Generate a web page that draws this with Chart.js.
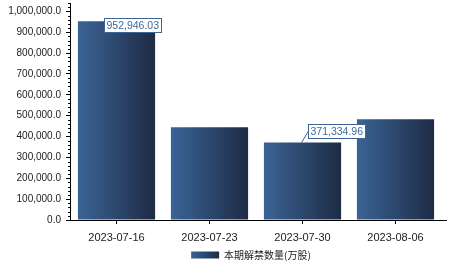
<!DOCTYPE html>
<html>
<head>
<meta charset="utf-8">
<script src="https://cdn.jsdelivr.net/npm/chart.js@4"></script>
<style>
  html, body { margin: 0; padding: 0; background: #fff; }
  #wrap { width: 465px; height: 268px; }
</style>
</head>
<body>
<div id="wrap"><canvas id="chart" width="465" height="268"></canvas></div>
<script>
// Chart data
const dates = ['2023-07-16', '2023-07-23', '2023-07-30', '2023-08-06'];
const unlockAmounts = [952946.03, 444400, 371334.96, 483000];
const labelledBars = [0, 2];
const seriesName = '本期解禁数量(万股)';

const BAR_LEFT = '#3a6496';
const BAR_RIGHT = '#1e2b45';
const BAR_PCT = 0.83;

function fmtTick(v) {
    return v.toLocaleString('en-US', { minimumFractionDigits: 1, maximumFractionDigits: 1 });
}

function fmtValue(v) {
    return v.toLocaleString('en-US', { minimumFractionDigits: 2, maximumFractionDigits: 2 });
}

function barGradient(ctx, x0, x1) {
    const g = ctx.createLinearGradient(x0, 0, x1, 0);
    g.addColorStop(0, BAR_LEFT);
    g.addColorStop(1, BAR_RIGHT);
    return g;
}

// Per-bar horizontal gradient, built from the x scale
function barFill(c) {
    const chart = c.chart;
    const xs = chart.scales.x;
    if (!xs || !chart.chartArea || c.dataIndex === undefined) return BAR_LEFT;
    const cx = xs.getPixelForValue(c.dataIndex);
    const half = xs.width / dates.length * BAR_PCT / 2;
    return barGradient(chart.ctx, cx - half, cx + half);
}

// Minor ticks on the y axis, longer x axis line, gradient legend box
const axisExtras = {
    id: 'axisExtras',
    afterLayout(chart) {
        // nudge the legend a little to the left
        chart.legend.left -= 5;
        chart.legend.right -= 5;
    },
    afterDraw(chart) {
        const ctx = chart.ctx;
        const ys = chart.scales.y;
        const xs = chart.scales.x;
        ctx.save();
        ctx.strokeStyle = '#000';
        ctx.lineWidth = 1;
        ys.ticks.forEach(t => {
            if (t.value % 100000 === 0) return;
            const y = Math.round(ys.getPixelForValue(t.value)) + 0.5;
            ctx.beginPath();
            ctx.moveTo(ys.right - 2, y);
            ctx.lineTo(ys.right, y);
            ctx.stroke();
        });
        const ay = Math.round(xs.top) + 0.5;
        ctx.beginPath();
        ctx.moveTo(xs.right - 1, ay);
        ctx.lineTo(xs.right + 5, ay);
        ctx.stroke();
        const hb = chart.legend.legendHitBoxes && chart.legend.legendHitBoxes[0];
        if (hb) {
            const bw = 28, bh = 7;
            const y = hb.top + (hb.height - bh) / 2;
            ctx.fillStyle = '#fff';
            ctx.fillRect(hb.left - 1, y - 1, bw + 2, bh + 2);
            ctx.fillStyle = barGradient(ctx, hb.left, hb.left + bw);
            ctx.fillRect(hb.left, y, bw, bh);
        }
        ctx.restore();
    }
};

// Boxed value labels
const valueBoxes = {
    id: 'valueBoxes',
    afterDatasetsDraw(chart, args, opts) {
        const ctx = chart.ctx;
        const meta = chart.getDatasetMeta(0);
        ctx.save();
        ctx.font = '10.5px "Liberation Sans", Arial, sans-serif';
        ctx.textBaseline = 'middle';
        labelledBars.forEach((idx, k) => {
            const bar = meta.data[idx];
            const off = opts.offsets[k];
            const text = fmtValue(unlockAmounts[idx]);
            const w = Math.ceil(ctx.measureText(text).width) + 4;
            const h = 14;
            const left = Math.round(bar.x + off.dx) + 0.5;
            const cy = Math.round(bar.y + off.dy);
            ctx.strokeStyle = '#3c6496';
            ctx.lineWidth = 1;
            if (off.dy < 0) {
                ctx.beginPath();
                ctx.moveTo(bar.x - 1, bar.y);
                ctx.lineTo(left, cy);
                ctx.stroke();
            }
            ctx.fillStyle = '#fff';
            ctx.fillRect(left, cy - h / 2 + 0.5, w, h);
            ctx.strokeRect(left, cy - h / 2 + 0.5, w, h);
            ctx.fillStyle = '#3f6ba0';
            ctx.fillText(text, left + 2, cy + 1);
        });
        ctx.restore();
    }
};

new Chart(document.getElementById('chart'), {
    type: 'bar',
    data: {
        labels: dates,
        datasets: [{
            label: seriesName,
            data: unlockAmounts,
            backgroundColor: barFill,
            borderWidth: 0,
            barPercentage: BAR_PCT,
            categoryPercentage: 1
        }]
    },
    options: {
        responsive: false,
        animation: false,
        events: [],
        layout: { padding: { top: 3, right: 23, left: 0, bottom: -2 } },
        plugins: {
            tooltip: { enabled: false },
            legend: {
                position: 'bottom',
                fullSize: false,
                labels: {
                    boxWidth: 28,
                    boxHeight: 7,
                    padding: 0,
                    color: '#222',
                    font: { size: 10, family: '"Noto Sans CJK SC", sans-serif' }
                }
            },
            valueBoxes: {
                offsets: [{ dx: -13, dy: 4 }, { dx: 5.5, dy: -11.5 }]
            }
        },
        scales: {
            x: {
                grid: {
                    display: true,
                    offset: false,
                    drawOnChartArea: false,
                    tickLength: 4,
                    tickColor: '#000'
                },
                border: { display: true, color: '#000', width: 1 },
                ticks: {
                    color: '#222',
                    padding: 7,
                    maxRotation: 0,
                    font: { size: 11, family: '"Liberation Sans", Arial, sans-serif' }
                },
                afterFit(s) { s.height = 30; }
            },
            y: {
                min: 0,
                max: 1040000,
                grid: {
                    display: true,
                    drawOnChartArea: false,
                    tickLength: 4,
                    tickColor: c => (c.tick && c.tick.value % 100000 === 0) ? '#000' : 'rgba(0,0,0,0)'
                },
                border: { display: true, color: '#000', width: 1 },
                ticks: {
                    stepSize: 20000,
                    autoSkip: false,
                    color: '#222',
                    padding: 5,
                    font: { size: 10, family: '"Liberation Sans", Arial, sans-serif' },
                    callback: v => (v % 100000 === 0) ? fmtTick(v) : ''
                },
                afterFit(s) {
                    s.width = 70;
                    s.paddingTop = 0;
                    s.paddingBottom = 0;
                }
            }
        }
    },
    plugins: [axisExtras, valueBoxes]
});
</script>
</body>
</html>
